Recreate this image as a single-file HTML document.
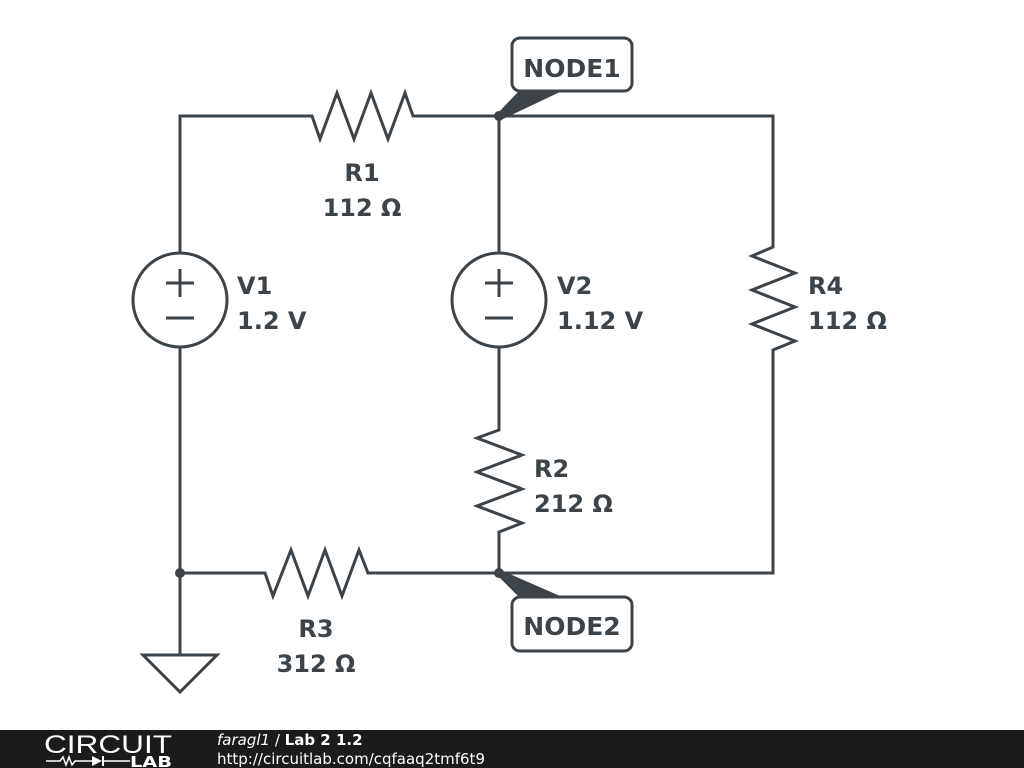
<!DOCTYPE html>
<html><head><style>
body{margin:0;width:1024px;height:768px;background:#fff;overflow:hidden;position:relative;font-family:"DejaVu Sans",sans-serif}
#bar{position:absolute;left:0;top:730px;width:1024px;height:38px;background:#1b1b1b}
</style></head><body>
<svg width="1024" height="730" style="position:absolute;left:0;top:0" font-family="DejaVu Sans, sans-serif">
<g fill="none" stroke="#3d4449" stroke-width="3" stroke-linejoin="miter">
<polyline points="180,253 180,116 312,116 320,139 337,93 354,139 371,93 388,139 405,93 413,116 773,116 773,247 752,256 795,273 752,290 795,307 752,324 795,341 773,350 773,573 499,573"/>
<line x1="499" y1="116" x2="499" y2="253"/>
<circle cx="180" cy="300" r="47"/>
<circle cx="499" cy="300" r="47"/>
<line x1="180" y1="347" x2="180" y2="655"/>
<polyline points="499,347 499,430 477,438 522,455 477,472 522,489 477,506 522,523 499,532 499,573"/>
<polyline points="180,573 265,573 273,596 291,550 308,596 325,550 342,596 359,550 368,573 499,573"/>
<polygon points="143,655 217,655 180,692"/>
<line x1="166" y1="283" x2="194" y2="283"/><line x1="180" y1="269" x2="180" y2="297"/>
<line x1="166" y1="318" x2="194" y2="318"/>
<line x1="485" y1="283" x2="513" y2="283"/><line x1="499" y1="269" x2="499" y2="297"/>
<line x1="485" y1="318" x2="513" y2="318"/>
<rect x="512" y="38" width="120" height="53" rx="8" fill="#fff"/>
<rect x="512" y="597" width="120" height="54" rx="8" fill="#fff"/>
</g>
<g fill="#3d4449">
<circle cx="499" cy="116" r="5"/><circle cx="499" cy="573" r="5"/><circle cx="180" cy="573" r="5"/>
<polygon points="497,114 518,92 560,92 503,119"/>
<polygon points="497,575 518,596 560,596 503,571"/>
</g>
<g fill="#3d4449" font-weight="bold" font-size="24">
<text x="572" y="77" text-anchor="middle" font-size="25">NODE1</text>
<text x="572" y="635" text-anchor="middle" font-size="25">NODE2</text>
<text x="362" y="181" text-anchor="middle">R1</text>
<text x="362" y="216" text-anchor="middle">112 Ω</text>
<text x="237" y="294">V1</text><text x="237" y="329">1.2 V</text>
<text x="557" y="294">V2</text><text x="557" y="329">1.12 V</text>
<text x="808" y="294">R4</text><text x="808" y="329">112 Ω</text>
<text x="534" y="477">R2</text><text x="534" y="512">212 Ω</text>
<text x="316" y="637" text-anchor="middle">R3</text>
<text x="316" y="672" text-anchor="middle">312 Ω</text>
</g>
</svg>
<div id="bar"></div>
<svg width="1024" height="38" style="position:absolute;left:0;top:730px" font-family="DejaVu Sans, sans-serif">
<text x="44" y="23" fill="#fff" font-size="25" font-weight="200" font-family="Liberation Sans, sans-serif" textLength="128" lengthAdjust="spacingAndGlyphs">CIRCUIT</text>
<polyline points="46,31 60,31 63,27 66,35 69,27 72,35 75,31 92,31" fill="none" stroke="#fff" stroke-width="1.5"/>
<polygon points="92,26 92,36 102,31" fill="#fff"/><line x1="103" y1="26" x2="103" y2="36" stroke="#fff" stroke-width="2"/>
<line x1="103" y1="31" x2="130" y2="31" stroke="#fff" stroke-width="1.5"/>
<text x="130" y="37" fill="#fff" font-size="15" font-weight="bold" textLength="42" lengthAdjust="spacingAndGlyphs">LAB</text>
<text x="217" y="15" fill="#fff" font-size="15"><tspan font-style="italic">faragl1</tspan> / <tspan font-weight="bold">Lab 2 1.2</tspan></text>
<text x="217" y="34" fill="#fff" font-size="15">http://circuitlab.com/cqfaaq2tmf6t9</text>
</svg>
</body></html>
